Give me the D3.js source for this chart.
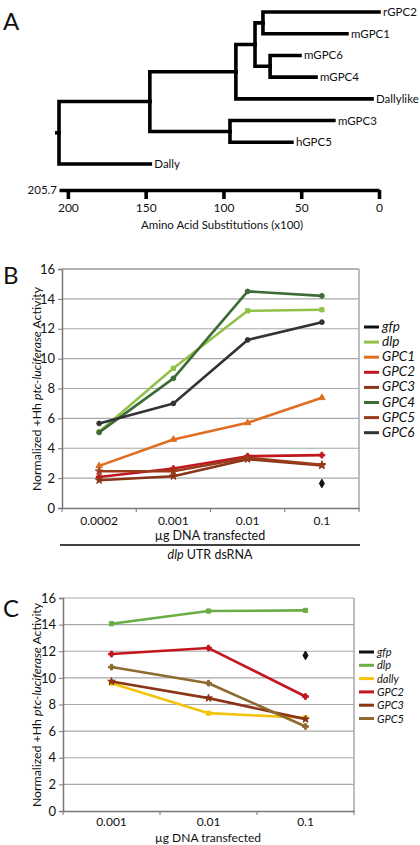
<!DOCTYPE html>
<html><head><meta charset="utf-8">
<script src="https://cdn.jsdelivr.net/npm/d3@7"></script>
<style>
body{margin:0;background:#fff;}
text{font-family:Lato,"Open Sans",sans-serif;fill:#111;}
</style></head>
<body><svg id="c" width="420" height="845"></svg>
<script>
// ---- Panel A: tree ----
const treeIds     = ["root","n1","n3","n4","n5","rGPC2","mGPC1","n6","mGPC6","mGPC4","Dallylike","n2","mGPC3","hGPC5","Dally"];
const treeParents = [null,"root","n1","n3","n4","n5","n5","n4","n6","n6","n3","n1","n2","n2","root"];
const treeDist    = [205.7,147.3,92,79.7,74.6,0,20.6,70,50.8,40.5,4.5,95.8,29,56,147];
const treeTicks   = [200,150,100,50,0];

// ---- Panel B ----
const bCats = ["0.0002","0.001","0.01","0.1"];
const bSeries = ["gfp","dlp","GPC1","GPC2","GPC3","GPC4","GPC5","GPC6"];
const bColors = ["#111111","#92c14a","#e06d22","#c3161f","#8a3518","#3d6b35","#9a3c1c","#333333"];
const bValues = [
  [null,null,null,1.64],
  [5.1,9.35,13.2,13.27],
  [2.82,4.59,5.7,7.38],
  [2.08,2.64,3.47,3.54],
  [1.86,2.13,3.27,2.85],
  [5.06,8.68,14.5,14.2],
  [2.46,2.46,3.36,2.9],
  [5.66,7.0,11.25,12.44]
];
const bTicks = [0,2,4,6,8,10,12,14,16];

// ---- Panel C ----
const cCats = ["0.001","0.01","0.1"];
const cSeries = ["gfp","dlp","dally","GPC2","GPC3","GPC5"];
const cColors = ["#111111","#6aae45","#f2c40c","#c3161f","#8a3518","#8d6a30"];
const cValues = [
  [null,null,11.69],
  [14.07,15.02,15.07],
  [9.6,7.35,7.0],
  [11.79,12.24,8.6],
  [9.73,8.48,6.9],
  [10.81,9.6,6.35]
];
const cTicks = [0,2,4,6,8,10,12,14,16];

const svg = d3.select("#c");

// ===== Panel A =====
svg.append("text").attr("x",3).attr("y",30).attr("font-size",24).text("A");
const root = d3.stratify().id((d,i)=>treeIds[i]).parentId((d,i)=>treeParents[i])(treeIds.map((id,i)=>({id,dist:treeDist[i]})));
const leaves = root.leaves().map(d=>d.id);
const xT = d3.scaleLinear().domain([205.7,0]).range([59,379]);
const yLeaf = d3.scalePoint().domain(leaves).range([12,164]);
root.eachAfter(n=>{ n.py = n.children ? d3.mean(n.children,c=>c.py) : yLeaf(n.id); n.px = xT(n.data.dist); });
const gT = svg.append("g");
gT.selectAll("path.br").data(root.descendants().filter(d=>d.parent)).join("path")
  .attr("fill","none").attr("stroke","#000").attr("stroke-width",3.6).attr("stroke-linecap","square")
  .attr("d",d=>`M${d.parent.px},${d.parent.py}V${d.py}H${d.px}`);
gT.append("path").attr("stroke","#000").attr("stroke-width",3.6)
  .attr("d",`M${root.px-4},${root.py}H${root.px}`);
gT.selectAll("text.lf").data(root.leaves()).join("text")
  .attr("x",d=>d.px+4).attr("y",d=>d.py+4).attr("font-size",11.5).text(d=>d.id);
const axT = svg.append("g").attr("transform","translate(0,190)")
  .call(d3.axisBottom(xT).tickValues(treeTicks).tickSize(9).tickSizeOuter(0).tickPadding(4));
axT.select(".domain").attr("stroke-width",3.6).attr("stroke","#000");
axT.selectAll(".tick line").attr("stroke-width",3.6).attr("stroke","#000");
axT.selectAll(".tick text").attr("font-size",12).attr("font-family","Lato,sans-serif").attr("fill","#111");
svg.append("text").attr("x",57).attr("y",194).attr("text-anchor","end").attr("font-size",11.5).text("205.7");
svg.append("text").attr("x",222).attr("y",229).attr("text-anchor","middle").attr("font-size",11.5).text("Amino Acid Substitutions (x100)");

// ===== generic line chart =====
function lineChart(opt){
  const {cats,series,colors,values,ticks,x0,x1,yTop,yBot,legX,legY,legDy,legFont,tickPad,symbols} = opt;
  const x = d3.scaleBand().domain(cats).range([x0,x1]);
  const y = d3.scaleLinear().domain([0,16]).range([yBot,yTop]);
  const g = svg.append("g");
  g.selectAll("line.grid").data(ticks.filter(t=>t>0)).join("line")
    .attr("x1",x0).attr("x2",x1).attr("y1",d=>y(d)).attr("y2",d=>y(d))
    .attr("stroke","#a8a8a8").attr("stroke-width",1.2);
  g.append("line").attr("x1",x1).attr("x2",x1).attr("y1",yTop).attr("y2",yBot).attr("stroke","#a8a8a8").attr("stroke-width",1.5);
  const ay = g.append("g").attr("transform",`translate(${x0},0)`)
    .call(d3.axisLeft(y).tickValues(ticks).tickSize(4).tickPadding(3));
  ay.select(".domain").attr("stroke","#777").attr("stroke-width",1.5);
  ay.selectAll(".tick line").attr("stroke","#777");
  ay.selectAll(".tick text").attr("font-size",13).attr("font-family","Lato,sans-serif").attr("fill","#111");
  const ax = g.append("g").attr("transform",`translate(0,${yBot})`)
    .call(d3.axisBottom(x).tickSize(0).tickPadding(tickPad));
  ax.select(".domain").attr("stroke","#777").attr("stroke-width",1.5);
  ax.selectAll(".tick text").attr("font-size",12).attr("font-family","Lato,sans-serif").attr("fill","#111");
  const bounds = cats.map(c=>x(c)).concat([x1]);
  g.selectAll("line.xt").data(bounds).join("line")
    .attr("x1",d=>d).attr("x2",d=>d).attr("y1",yBot).attr("y2",yBot+4).attr("stroke","#777");
  const line = d3.line().defined(d=>d.v!=null).x(d=>x(d.c)+x.bandwidth()/2).y(d=>y(d.v));
  series.forEach((s,i)=>{
    const pts = cats.map((c,j)=>({c,v:values[i][j]}));
    g.append("path").datum(pts).attr("fill","none").attr("stroke",colors[i]).attr("stroke-width",2.6)
      .attr("stroke-linejoin","round").attr("d",line);
    g.selectAll(null).data(pts.filter(p=>p.v!=null)).join("path")
      .attr("transform",p=>`translate(${x(p.c)+x.bandwidth()/2},${y(p.v)})`)
      .attr("fill",colors[i]).attr("stroke",colors[i]).attr("stroke-width",1)
      .attr("d",d3.symbol().type(symbols[i]).size(s==="gfp"?22:18));
  });
  const lg = svg.append("g");
  series.forEach((s,i)=>{
    const yy = legY + i*legDy;
    lg.append("line").attr("x1",legX).attr("x2",legX+15).attr("y1",yy).attr("y2",yy)
      .attr("stroke",colors[i]).attr("stroke-width",3);
    lg.append("text").attr("x",legX+18).attr("y",yy+4).attr("font-size",legFont).attr("font-style","italic").text(s);
  });
  return {x,y};
}
function yLabel(cx,cy){
  const t = svg.append("text").attr("transform",`translate(${cx},${cy}) rotate(-90)`)
    .attr("text-anchor","middle").attr("font-size",12.3);
  t.append("tspan").text("Normalized +Hh ");
  t.append("tspan").attr("font-style","italic").text("ptc-luciferase");
  t.append("tspan").text(" Activity");
}

// ===== Panel B =====
svg.append("text").attr("x",3).attr("y",284).attr("font-size",24).text("B");
lineChart({cats:bCats,series:bSeries,colors:bColors,values:bValues,ticks:bTicks,
  x0:62,x1:359,yTop:269,yBot:508,legX:364,legY:327,legDy:15.1,legFont:13.5,tickPad:8,
  symbols:[d3.symbolDiamond,d3.symbolSquare,d3.symbolTriangle,d3.symbolCross,d3.symbolStar,d3.symbolCircle,d3.symbolStar,d3.symbolCircle]});
svg.append("line").attr("x1",62).attr("x2",359).attr("y1",269).attr("y2",269).attr("stroke","#a8a8a8").attr("stroke-width",1.5);
yLabel(41,389);
svg.append("text").attr("x",210).attr("y",540).attr("text-anchor","middle").attr("font-size",12.5).text("µg DNA transfected");
svg.append("line").attr("x1",60).attr("x2",360).attr("y1",545).attr("y2",545).attr("stroke","#000").attr("stroke-width",1.3);
const tb = svg.append("text").attr("x",210).attr("y",559).attr("text-anchor","middle").attr("font-size",12.5);
tb.append("tspan").attr("font-style","italic").text("dlp");
tb.append("tspan").text(" UTR dsRNA");

// ===== Panel C =====
svg.append("text").attr("x",3).attr("y",617).attr("font-size",24).text("C");
lineChart({cats:cCats,series:cSeries,colors:cColors,values:cValues,ticks:cTicks,
  x0:63,x1:354,yTop:598,yBot:811,legX:359,legY:652,legDy:13.3,legFont:11,tickPad:6,
  symbols:[d3.symbolDiamond,d3.symbolSquare,d3.symbolSquare,d3.symbolCross,d3.symbolStar,d3.symbolCross]});
yLabel(41,705);
svg.append("text").attr("x",208).attr("y",842).attr("text-anchor","middle").attr("font-size",12).text("µg DNA transfected");
</script></body></html>
